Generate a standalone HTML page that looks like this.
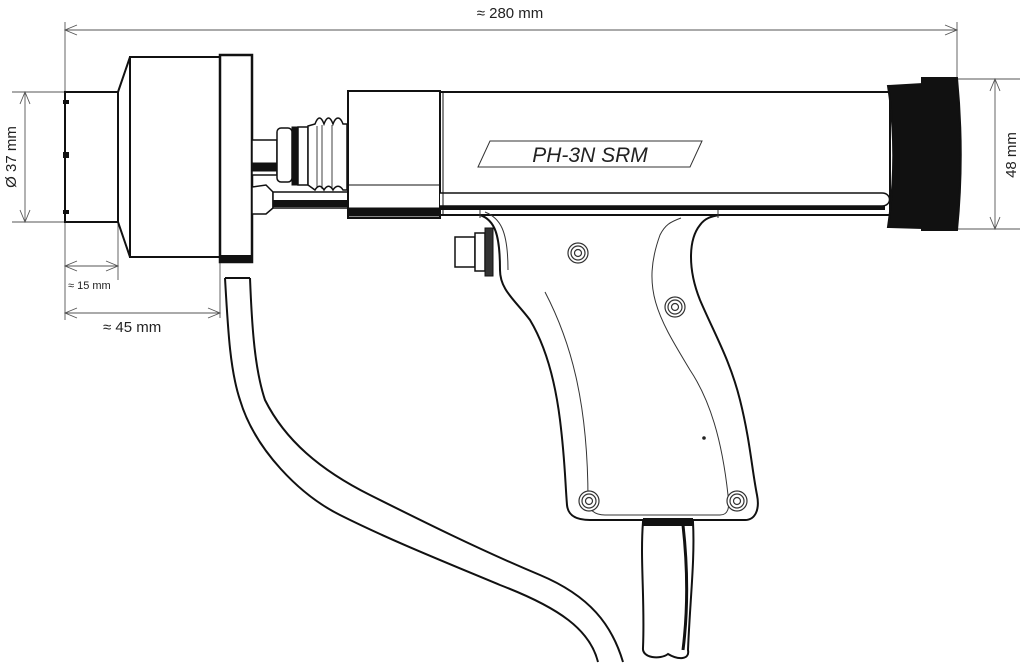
<!DOCTYPE html>
<html><head><meta charset="utf-8"><style>
html,body{margin:0;padding:0;background:#fff;}
svg{display:block;}
text{font-family:"Liberation Sans",sans-serif;fill:#222;}
</style></head><body>
<svg width="1024" height="666" viewBox="0 0 1024 666" xmlns="http://www.w3.org/2000/svg">
<g stroke="#555" stroke-width="0.9" fill="none">
 <line x1="65" y1="30" x2="957" y2="30"/>
 <polyline points="77,25 65,30 77,35"/><polyline points="945,25 957,30 945,35"/>
 <line x1="65" y1="22" x2="65" y2="320"/>
 <line x1="957" y1="22" x2="957" y2="80"/>
 <line x1="12" y1="92" x2="65" y2="92"/><line x1="12" y1="222" x2="65" y2="222"/>
 <line x1="25" y1="92" x2="25" y2="222"/>
 <polyline points="20,104 25,92 30,104"/><polyline points="20,210 25,222 30,210"/>
 <line x1="65" y1="266" x2="118" y2="266"/>
 <polyline points="77,261 65,266 77,271"/><polyline points="106,261 118,266 106,271"/>
 <line x1="118" y1="222" x2="118" y2="280"/>
 <line x1="65" y1="313" x2="220" y2="313"/>
 <polyline points="77,308 65,313 77,318"/><polyline points="208,308 220,313 208,318"/>
 <line x1="220" y1="262" x2="220" y2="318"/>
 <line x1="957" y1="79" x2="1020" y2="79"/><line x1="957" y1="229" x2="1020" y2="229"/>
 <line x1="995" y1="79" x2="995" y2="229"/>
 <polyline points="990,91 995,79 1000,91"/><polyline points="990,217 995,229 1000,217"/>
</g>
<text x="510" y="18" font-size="15" text-anchor="middle">≈ 280 mm</text>
<text x="68" y="289" font-size="11">≈ 15 mm</text>
<text x="103" y="332" font-size="15">≈ 45 mm</text>
<text transform="translate(16,157) rotate(-90)" font-size="15" text-anchor="middle">Ø 37 mm</text>
<text transform="translate(1016,155) rotate(-90)" font-size="15" text-anchor="middle">48 mm</text>

<g stroke="#111" stroke-width="2" fill="#fff">
 <rect x="65" y="92" width="53" height="130"/>
 <polygon points="118,92 130,57 130,257 118,222"/>
 <rect x="130" y="57" width="90" height="200"/>
 <rect x="220" y="55" width="32" height="207" stroke-width="2.5"/>
 <rect x="220" y="256" width="32" height="6" fill="#111"/>
 <path d="M225,278 C228,330 230,370 240,400 C255,450 300,495 340,515 C390,540 440,560 500,585 C560,608 590,630 598,662" fill="none"/>
 <path d="M250,278 C252,330 255,370 265,400 C285,440 320,470 370,495 C420,520 480,550 540,575 C590,596 612,625 623,662" fill="none"/>
 <line x1="225" y1="278" x2="250" y2="278"/>
 <!-- connectors -->
 <rect x="252" y="140" width="25" height="35" stroke-width="1.5"/>
 <rect x="252" y="163" width="25" height="8" fill="#111" stroke-width="1"/>
 <rect x="277" y="128" width="15" height="54" rx="4" stroke-width="1.5"/>
 <rect x="292" y="127" width="6" height="58" fill="#111" stroke-width="1"/>
 <rect x="298" y="127" width="10" height="58" stroke-width="1.5"/>
 <path d="M308,126 L315,124 C318,116 321,116 324,124 C327,116 330,116 333,124 C336,116 340,116 343,124 L347,124 L347,190 L343,190 C340,185 336,185 333,190 C330,185 327,185 324,190 C321,185 318,185 315,190 L308,185 Z" stroke-width="1.5"/>
 <g stroke-width="0.8"><line x1="317" y1="126" x2="317" y2="188"/><line x1="322" y1="125" x2="322" y2="189"/><line x1="332" y1="125" x2="332" y2="189"/></g>
 <path d="M252,187 L266,185 L273,192 L273,208 L266,214 L252,214 Z" stroke-width="1.5"/>
 <rect x="273" y="192" width="75" height="16" stroke-width="1.5"/>
 <rect x="273" y="200" width="75" height="7" fill="#111" stroke="none"/>
 <!-- housing -->
 <rect x="348" y="91" width="92" height="127"/>
 <line x1="348" y1="185" x2="440" y2="185" stroke-width="1"/>
 <rect x="348" y="208" width="92" height="8" fill="#111" stroke-width="1"/>
 <!-- grip -->
 <path d="M480,215 C495,220 500,235 500,270 C500,290 515,300 530,320 C545,345 555,380 560,420 C565,460 565,480 567,505 C568,515 575,520 590,520 L745,520 C755,520 760,510 757,495 C752,470 750,440 740,400 C730,360 715,335 700,300 C688,270 688,240 700,225 C705,218 712,216 720,215 Z"/>
 <rect x="440" y="92" width="450" height="123"/>
 <path d="M440,193 L882,193 C892,193 892,206 882,206 L440,206" stroke-width="1.5"/>
 <rect x="440" y="206" width="445" height="4" fill="#111" stroke="none"/>
 <line x1="443" y1="92" x2="443" y2="215" stroke-width="1"/>
 <path d="M888,86 L922,84 L922,228 L888,227 C895,180 895,130 888,86 Z" fill="#111"/>
 <path d="M922,78 L957,78 C962,130 962,180 957,230 L922,230 Z" fill="#111"/>
 <rect x="455" y="237" width="20" height="30" stroke-width="1.5"/>
 <rect x="475" y="233" width="10" height="38" stroke-width="1.5"/>
 <rect x="485" y="228" width="8" height="48" fill="#333" stroke-width="1"/>
 <path d="M643,522 C640,560 645,600 643,648 C642,658 660,660 668,654 C678,660 690,660 688,650 C690,600 695,560 693,522 Z"/>
 <rect x="643" y="518" width="50" height="8" fill="#111" stroke="none"/>
 <path d="M683,525 C688,570 688,610 683,650" stroke-width="3" fill="none"/>
</g>
<polygon points="490,141 702,141 690,167 478,167" fill="none" stroke="#333" stroke-width="1"/>
<text x="590" y="162" font-size="21" font-style="italic" text-anchor="middle">PH-3N SRM</text>
<g stroke="#333" stroke-width="1" fill="none">
 <path d="M485,212 C500,218 508,230 508,270"/>
 <path d="M545,292 C570,340 588,400 588,500 C588,510 595,515 605,515 L720,515 C728,515 730,508 728,495 C722,440 710,400 690,370 C660,320 640,290 660,235 C665,225 670,222 681,218"/>
 <line x1="480" y1="210" x2="480" y2="218"/><line x1="718" y1="210" x2="718" y2="218"/>
</g>
<g stroke="#333" stroke-width="1.2" fill="#fff">
 <circle cx="578" cy="253" r="10"/><circle cx="578" cy="253" r="7"/><circle cx="578" cy="253" r="3.5"/>
 <circle cx="675" cy="307" r="10"/><circle cx="675" cy="307" r="7"/><circle cx="675" cy="307" r="3.5"/>
 <circle cx="589" cy="501" r="10"/><circle cx="589" cy="501" r="7"/><circle cx="589" cy="501" r="3.5"/>
 <circle cx="737" cy="501" r="10"/><circle cx="737" cy="501" r="7"/><circle cx="737" cy="501" r="3.5"/>
</g>
<circle cx="704" cy="438" r="1.8" fill="#222"/>
<g fill="#111"><rect x="63" y="100" width="6" height="4"/><rect x="63" y="152" width="6" height="6"/><rect x="63" y="210" width="6" height="4"/></g>
</svg>
</body></html>
